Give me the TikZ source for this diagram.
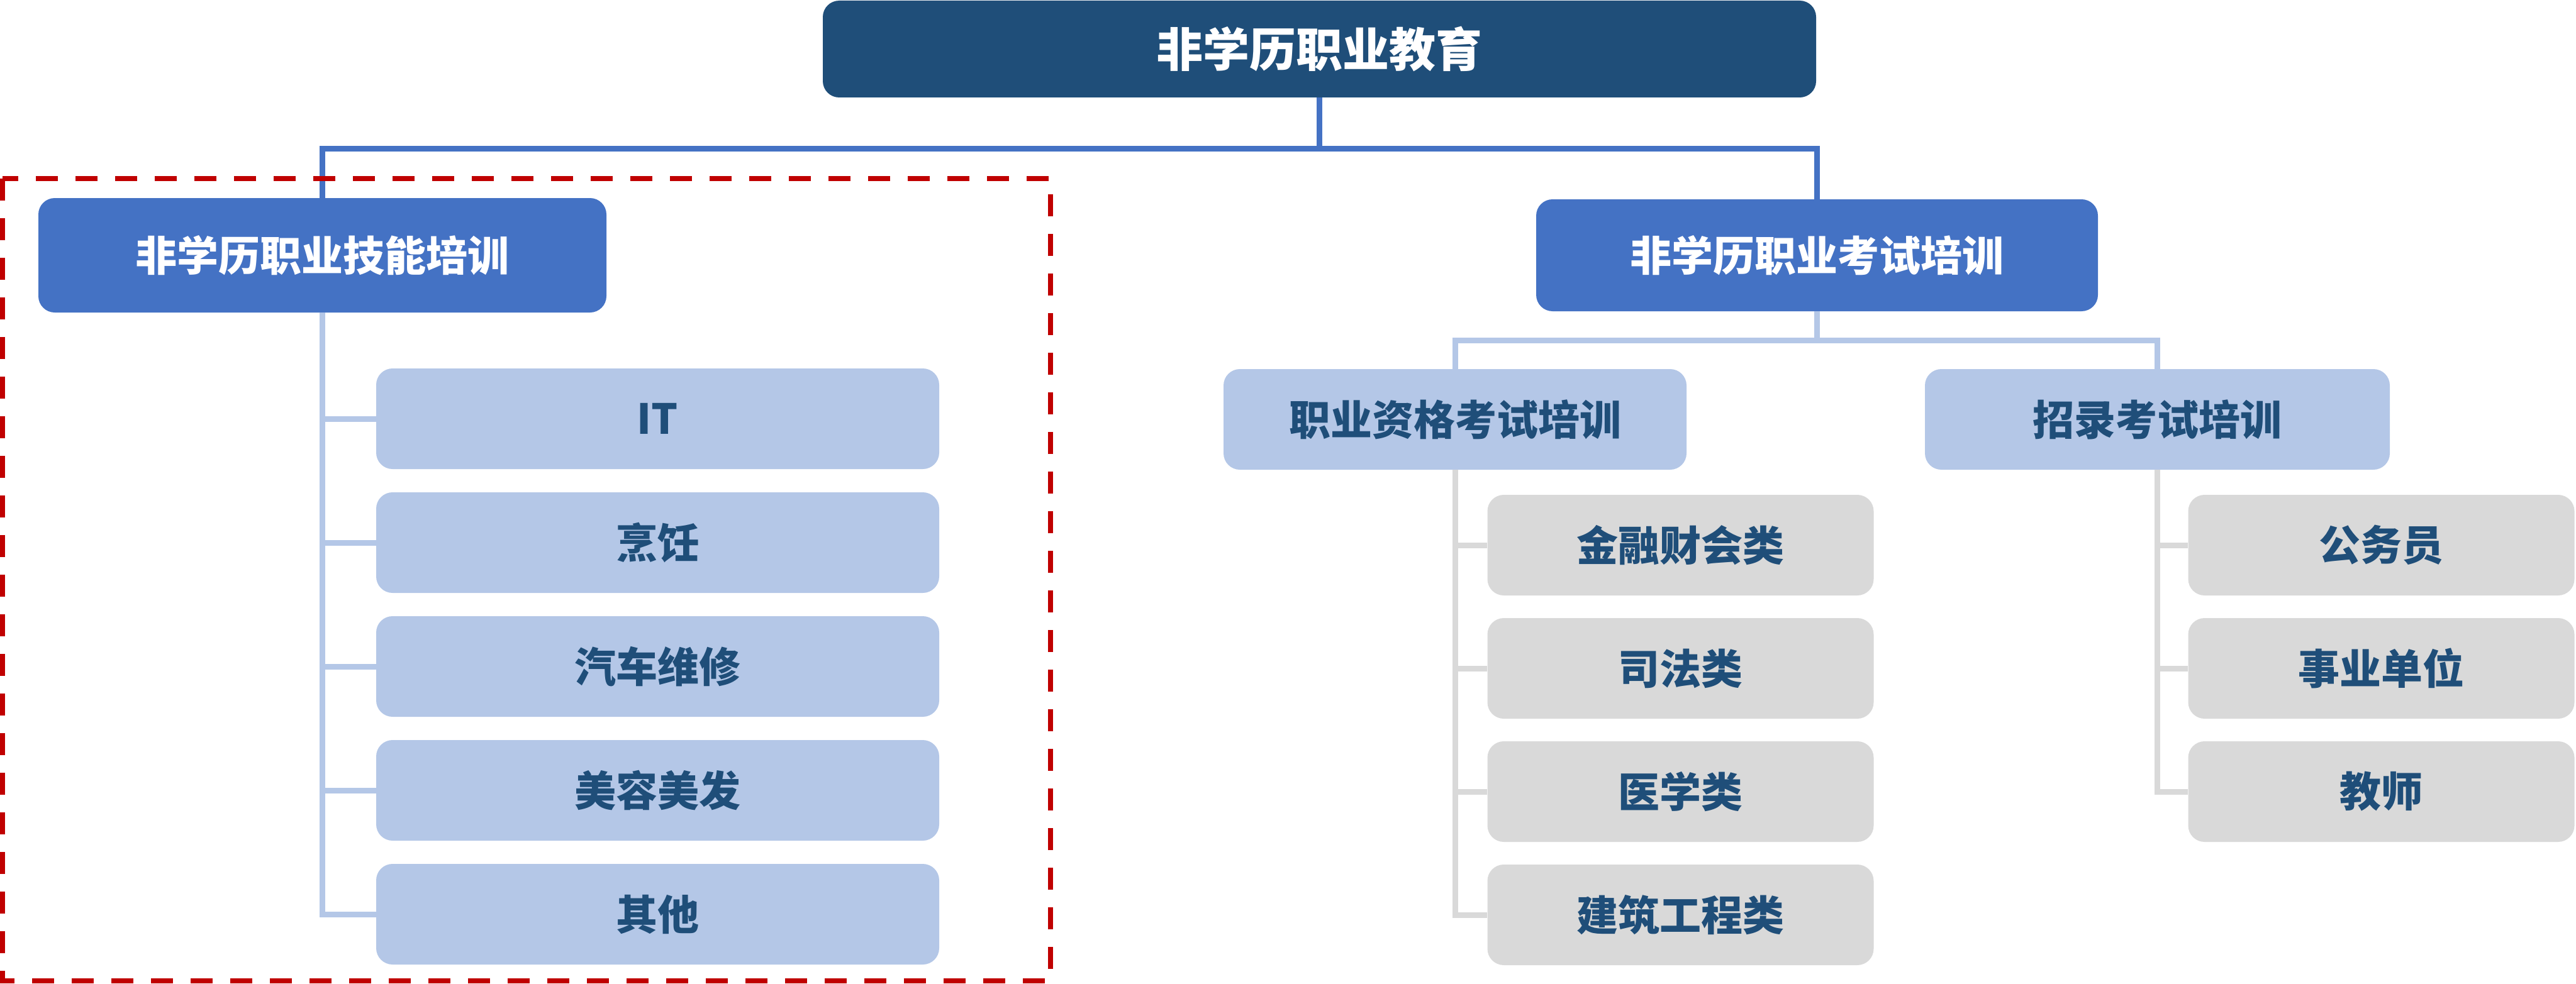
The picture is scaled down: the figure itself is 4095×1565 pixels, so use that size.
\documentclass[tikz,border=0pt]{standalone}
\usepackage{fontspec}
\newfontfamily\cjk{Noto Sans CJK SC}
\definecolor{navy}{HTML}{1F4E79}
\definecolor{midblue}{HTML}{4472C4}
\definecolor{paleblue}{HTML}{B4C7E7}
\definecolor{palegray}{HTML}{D9D9D9}
\definecolor{darkred}{HTML}{C00000}

\begin{document}
\begin{tikzpicture}[x=1pt,y=-1pt,
    box/.style={rounded corners=26pt, inner sep=0pt, minimum height=160pt,
      font=\cjk\bfseries\fontsize{66}{70}\selectfont},
    rootbox/.style={box, fill=navy, text=white, minimum width=1579pt,
      minimum height=154pt, font=\cjk\bfseries\fontsize{74}{78}\selectfont},
    mainbox/.style={box, fill=midblue, text=white, minimum height=182pt},
    subbox/.style={box, fill=paleblue, text=navy},
    leafbox/.style={box, fill=palegray, text=navy, minimum width=614pt},
    bline/.style={draw=midblue, line width=9pt},
    lline/.style={draw=paleblue, line width=9pt},
    gline/.style={draw=palegray, line width=9pt}]
    \useasboundingbox (0,0) rectangle (4095,1565);

    % top of the tree
    \node[rootbox] (root) at (2097.5,78) {非学历职业教育};
    \node[mainbox, minimum width=903pt] (skill) at (512.5,406) {非学历职业技能培训};
    \node[mainbox, minimum width=893pt, minimum height=178pt] (exam) at (2888.5,406) {非学历职业考试培训};
    \draw[bline] (root.south) -- ++(0,81) -| (skill.north);
    \draw[bline] (root.south) -- ++(0,81) -| (exam.north);

    % skill training branch
    \foreach \txt [count=\i] in {IT,烹饪,汽车维修,美容美发,其他}{%
      \node[subbox, minimum width=895pt] (s\i) at (1045.5,{666+197*(\i-1)}) {\txt};
      \draw[lline] (skill.south) |- (s\i.west);
    }

    % exam training branch
    \node[subbox, minimum width=736pt] (qual) at (2313,667) {职业资格考试培训};
    \node[subbox, minimum width=739pt] (recruit) at (3429.5,667) {招录考试培训};
    \draw[lline] (exam.south) -- ++(0,46) -| (qual.north);
    \draw[lline] (exam.south) -- ++(0,46) -| (recruit.north);

    \foreach \txt [count=\i] in {金融财会类,司法类,医学类,建筑工程类}{%
      \node[leafbox] (q\i) at (2671.5,{867+196*(\i-1)}) {\txt};
      \draw[gline] (qual.south) |- (q\i.west);
    }
    \foreach \txt [count=\i] in {公务员,事业单位,教师}{%
      \node[leafbox] (r\i) at (3785.5,{867+196*(\i-1)}) {\txt};
      \draw[gline] (recruit.south) |- (r\i.west);
    }

    % dashed frame round the skill branch
    \draw[darkred, line width=8pt, dash pattern=on 35pt off 28pt] (4,284) rectangle (1670,1560);
\end{tikzpicture}
\end{document}
